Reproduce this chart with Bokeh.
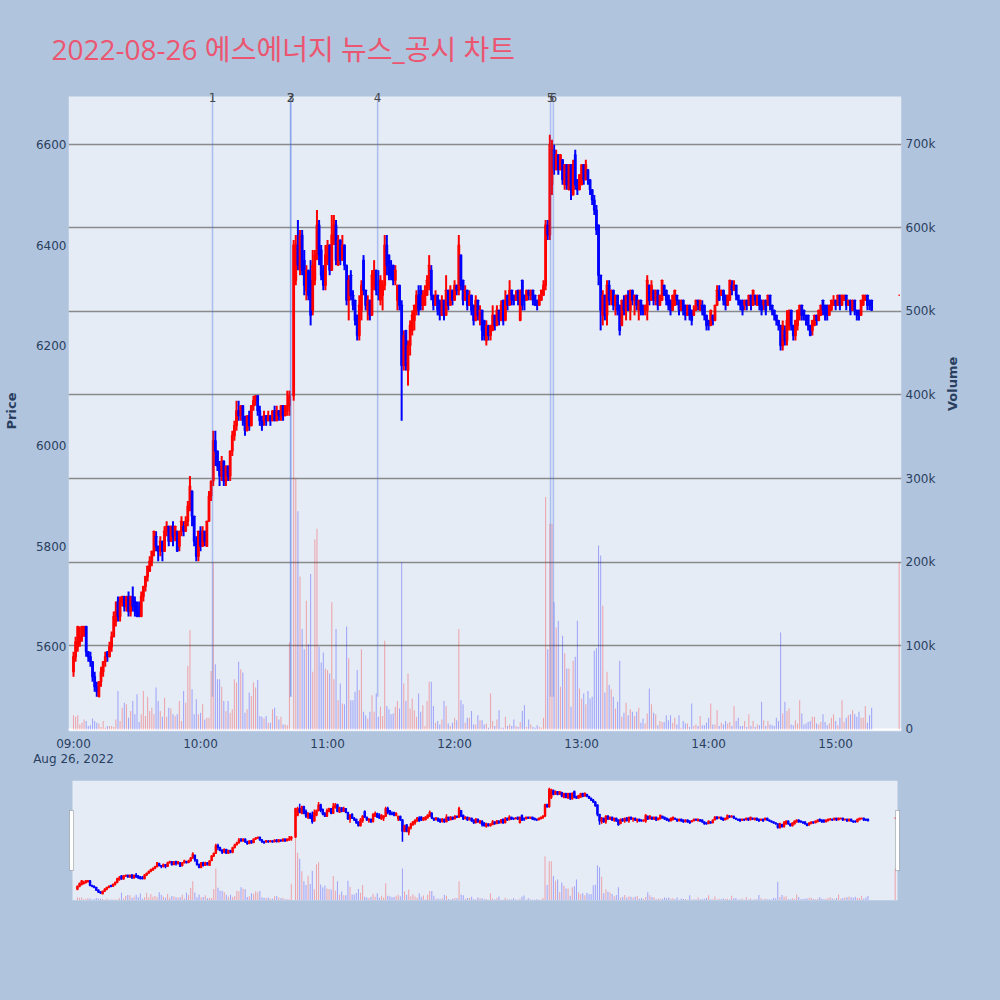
import math
from bokeh.plotting import figure
from bokeh.models import (ColumnDataSource, Range1d, LinearAxis, FixedTicker, LabelSet,
                          BoxAnnotation, Grid)
from bokeh.layouts import column
from bokeh.embed import file_html
from bokeh.resources import INLINE
from bokeh.core.properties import value

TITLE = "2022-08-26 에스에너지 뉴스_공시 차트"
DATE_LABEL = "Aug 26, 2022"
# minutes after 09:00 (10:43 missing: VI single-price auction; 15:30 = closing auction)
MINUTES = [m for m in range(0, 378) if m != 103] + [390]

OPEN = [
    5550,5580,5600,5610,5620,5630,5640,5590,5580,5570,
    5540,5520,5500,5530,5550,5570,5590,5580,5600,5620,
    5650,5690,5660,5690,5700,5680,5700,5670,5700,5690,
    5680,5670,5660,5700,5720,5740,5750,5770,5790,5820,
    5800,5790,5810,5790,5830,5840,5810,5840,5820,5830,
    5800,5830,5840,5830,5850,5880,5910,5860,5810,5780,
    5830,5800,5830,5800,5850,5900,5930,6010,5990,5960,
    5940,5970,5930,5960,5940,5990,6020,6040,6070,6060,
    6080,6050,6030,6060,6040,6080,6090,6100,6070,6050,
    6050,6060,6050,6060,6050,6070,6050,6070,6060,6080,
    6060,6070,6080,
    6100,6330,6400,6350,6420,6370,6310,6350,6330,6270,
    6330,6380,6440,6390,6350,6320,6370,6400,6350,6410,
    6440,6360,6410,6370,6400,6360,6290,6340,6300,6290,
    6260,6220,6270,6370,6310,6270,6290,6260,6320,6350,
    6330,6290,6300,6320,6400,6380,6350,6360,6330,6290,
    6320,6280,6160,6230,6150,6200,6230,6250,6270,6300,
    6310,6280,6280,6300,6320,6350,6300,6280,6300,6290,
    6260,6290,6260,6310,6280,6310,6290,6320,6310,6380,
    6330,6290,6310,6280,6300,6280,6250,6290,6250,6270,
    6250,6210,6240,6220,6230,6260,6240,6270,6250,6290,
    6250,6300,6280,6310,6300,6290,6310,6250,6330,6300,
    6290,6310,6300,6310,6300,6290,6280,6290,6300,6320,
    6440,6420,6520,6590,6550,6580,6550,6570,6520,6560,
    6510,6560,6500,6580,6530,6510,6520,6560,6530,6550,
    6530,6510,6490,6470,6440,6340,6260,6300,6260,6320,
    6290,6310,6280,6300,6280,6240,6290,6270,6300,6270,
    6310,6290,6300,6270,6290,6280,6270,6270,6320,6290,
    6310,6290,6310,6280,6290,6320,6310,6300,6290,6270,
    6280,6300,6290,6270,6290,6280,6260,6280,6270,6260,
    6270,6290,6270,6280,6280,6260,6250,6240,6260,6250,
    6280,6310,6300,6310,6300,6280,6290,6320,6310,6320,
    6300,6290,6290,6280,6290,6280,6300,6280,6300,6280,
    6300,6290,6280,6290,6280,6300,6280,6270,6260,6250,
    6240,6200,6230,6210,6240,6270,6240,6220,6240,6260,
    6280,6270,6260,6260,6240,6230,6240,6260,6250,6260,
    6290,6280,6280,6260,6270,6280,6290,6280,6300,6280,
    6290,6300,6280,6290,6270,6290,6270,6270,6260,6280,
    6290,6300,6290,6290,
    6300,
]
CLOSE = [
    5580,5610,5640,5620,5640,5640,5590,5580,5570,5540,
    5520,5510,5530,5550,5570,5580,5580,5600,5620,5660,
    5670,5660,5690,5700,5680,5700,5670,5700,5680,5670,
    5660,5660,5700,5720,5740,5760,5770,5790,5830,5800,
    5790,5810,5790,5830,5840,5810,5840,5820,5840,5790,
    5830,5850,5830,5850,5880,5920,5860,5810,5780,5830,
    5800,5830,5810,5850,5900,5930,6010,5990,5960,5940,
    5970,5930,5960,5940,5990,6020,6040,6070,6060,6080,
    6050,6030,6060,6040,6080,6090,6100,6070,6050,6040,
    6060,6050,6060,6050,6070,6050,6070,6060,6080,6060,
    6080,6080,6100,
    6400,6400,6360,6420,6350,6320,6350,6300,6260,6360,
    6380,6440,6380,6340,6320,6380,6400,6350,6420,6440,
    6370,6410,6370,6400,6360,6290,6330,6300,6280,6250,
    6220,6280,6320,6310,6280,6290,6260,6340,6350,6310,
    6300,6330,6320,6400,6360,6340,6340,6330,6350,6320,
    6280,6160,6220,6160,6200,6240,6260,6280,6300,6270,
    6280,6300,6310,6330,6360,6300,6280,6300,6270,6260,
    6290,6260,6310,6280,6310,6290,6320,6310,6400,6320,
    6290,6310,6280,6300,6270,6250,6290,6260,6270,6230,
    6220,6240,6220,6240,6260,6240,6270,6250,6280,6250,
    6290,6280,6310,6290,6290,6300,6290,6310,6280,6290,
    6310,6300,6310,6290,6280,6280,6300,6310,6320,6440,
    6420,6600,6600,6550,6580,6550,6580,6530,6560,6520,
    6560,6510,6560,6520,6510,6540,6560,6530,6560,6530,
    6510,6490,6470,6430,6340,6270,6300,6260,6320,6290,
    6310,6280,6300,6270,6230,6290,6270,6300,6270,6310,
    6290,6300,6280,6290,6270,6270,6280,6330,6290,6320,
    6290,6310,6280,6300,6330,6300,6290,6280,6270,6300,
    6310,6290,6270,6290,6270,6260,6280,6260,6250,6270,
    6290,6280,6290,6270,6260,6240,6240,6270,6250,6280,
    6310,6290,6310,6290,6280,6300,6330,6310,6320,6300,
    6290,6280,6270,6290,6280,6300,6280,6310,6290,6300,
    6280,6270,6290,6270,6300,6280,6270,6260,6250,6240,
    6200,6240,6210,6250,6270,6240,6220,6250,6270,6280,
    6260,6260,6250,6240,6220,6250,6260,6250,6270,6280,
    6270,6260,6260,6280,6290,6290,6280,6300,6280,6300,
    6300,6280,6290,6270,6290,6270,6260,6260,6290,6300,
    6300,6280,6280,6270,
    6300,
]
HIGH = [
    5590,5620,5640,5640,5640,5640,5640,5590,5590,5570,
    5550,5530,5530,5560,5570,5590,5590,5610,5630,5670,
    5690,5700,5700,5700,5700,5700,5710,5700,5720,5700,
    5690,5690,5710,5720,5740,5760,5780,5790,5830,5830,
    5800,5820,5810,5840,5850,5840,5840,5850,5840,5830,
    5830,5860,5850,5860,5890,5940,5910,5860,5820,5830,
    5840,5840,5830,5850,5910,5930,6030,6030,5990,5970,
    5980,5970,5960,5960,5990,6030,6050,6090,6090,6080,
    6080,6060,6060,6070,6080,6100,6100,6100,6080,6060,
    6070,6060,6070,6060,6070,6080,6080,6070,6080,6080,
    6080,6110,6110,
    6410,6420,6450,6430,6430,6390,6360,6350,6370,6390,
    6390,6470,6450,6400,6360,6400,6410,6400,6460,6460,
    6450,6420,6410,6420,6400,6360,6340,6350,6310,6290,
    6260,6300,6330,6380,6310,6300,6290,6350,6370,6350,
    6350,6340,6330,6420,6420,6380,6370,6360,6360,6320,
    6320,6290,6230,6230,6210,6250,6270,6280,6310,6320,
    6320,6310,6320,6340,6380,6360,6300,6310,6300,6290,
    6300,6290,6340,6310,6320,6310,6330,6320,6420,6380,
    6330,6320,6310,6310,6300,6280,6300,6290,6280,6270,
    6250,6250,6240,6240,6280,6260,6280,6270,6290,6290,
    6310,6300,6330,6310,6300,6310,6310,6310,6330,6300,
    6310,6310,6310,6310,6300,6290,6300,6310,6330,6450,
    6450,6620,6610,6600,6590,6580,6580,6570,6560,6560,
    6560,6560,6570,6590,6530,6540,6560,6560,6570,6550,
    6530,6510,6500,6480,6440,6340,6310,6300,6330,6330,
    6310,6310,6300,6300,6280,6290,6300,6300,6310,6310,
    6310,6300,6300,6290,6290,6280,6280,6340,6320,6330,
    6310,6310,6310,6300,6330,6320,6310,6300,6290,6300,
    6310,6300,6290,6290,6290,6280,6280,6280,6270,6280,
    6290,6290,6290,6290,6280,6260,6250,6270,6260,6280,
    6320,6320,6310,6310,6300,6300,6330,6330,6330,6320,
    6300,6290,6290,6290,6290,6300,6300,6310,6300,6300,
    6300,6290,6290,6290,6300,6300,6280,6270,6260,6250,
    6240,6250,6240,6270,6270,6270,6240,6250,6270,6280,
    6280,6270,6260,6260,6240,6250,6260,6260,6270,6280,
    6290,6280,6280,6280,6290,6300,6290,6300,6300,6300,
    6300,6300,6290,6290,6290,6290,6270,6270,6290,6300,
    6300,6300,6290,6290,
    6300,
]
LOW = [
    5540,5570,5590,5600,5610,5620,5580,5570,5560,5530,
    5510,5500,5500,5520,5540,5560,5570,5580,5590,5620,
    5640,5650,5650,5680,5670,5670,5660,5660,5670,5660,
    5660,5660,5660,5690,5710,5730,5750,5760,5780,5790,
    5770,5780,5770,5790,5820,5800,5810,5800,5810,5790,
    5790,5820,5820,5830,5840,5870,5840,5800,5770,5770,
    5790,5800,5800,5800,5850,5890,5920,5960,5950,5920,
    5930,5920,5920,5930,5930,5980,6010,6030,6050,6050,
    6040,6020,6030,6030,6040,6070,6080,6060,6040,6030,
    6040,6040,6050,6040,6050,6050,6050,6050,6050,6050,
    6060,6060,6060,
    6090,6320,6350,6340,6340,6300,6290,6290,6240,6260,
    6320,6370,6360,6330,6310,6310,6360,6340,6350,6400,
    6360,6360,6360,6370,6350,6280,6250,6290,6270,6240,
    6210,6210,6250,6300,6270,6250,6250,6260,6310,6300,
    6290,6280,6270,6310,6340,6330,6330,6320,6320,6270,
    6270,6050,6150,6150,6120,6180,6220,6230,6260,6260,
    6270,6270,6280,6300,6310,6290,6270,6280,6260,6250,
    6260,6250,6260,6270,6280,6280,6290,6300,6300,6310,
    6280,6290,6270,6280,6260,6240,6250,6250,6240,6210,
    6210,6200,6210,6210,6230,6230,6240,6240,6250,6240,
    6250,6270,6280,6280,6280,6290,6280,6250,6270,6270,
    6290,6290,6290,6280,6280,6270,6280,6290,6300,6310,
    6410,6410,6500,6540,6550,6540,6550,6520,6510,6510,
    6510,6490,6500,6510,6500,6510,6520,6520,6530,6520,
    6500,6480,6460,6420,6320,6230,6240,6250,6240,6280,
    6280,6270,6260,6260,6220,6240,6260,6250,6270,6250,
    6280,6260,6270,6250,6260,6260,6260,6250,6280,6290,
    6280,6280,6270,6280,6290,6300,6280,6270,6260,6270,
    6280,6280,6260,6270,6260,6250,6260,6250,6240,6260,
    6270,6270,6270,6260,6250,6230,6230,6240,6240,6250,
    6280,6290,6300,6280,6270,6280,6290,6300,6310,6290,
    6280,6270,6260,6270,6270,6280,6270,6280,6280,6280,
    6270,6260,6270,6260,6280,6270,6260,6250,6240,6230,
    6190,6190,6200,6200,6230,6230,6210,6210,6230,6250,
    6250,6250,6240,6230,6220,6220,6240,6240,6250,6260,
    6260,6250,6250,6260,6270,6280,6270,6280,6270,6280,
    6290,6270,6280,6260,6270,6260,6250,6250,6260,6280,
    6290,6270,6270,6270,
    6300,
]
# traded volume, thousands of shares
VOLUME_K = [
    17,15,17,6,8,12,10,4,5,13,
    10,8,7,3,10,2,4,4,4,3,
    12,46,10,26,32,30,14,22,34,18,
    42,9,18,46,16,39,22,26,18,50,
    34,22,15,38,15,26,25,18,16,18,
    34,10,46,32,76,119,48,18,36,18,
    20,30,12,14,14,70,200,78,60,60,
    51,34,22,34,20,24,60,56,81,72,
    68,20,24,44,40,56,50,59,16,15,
    13,16,8,8,24,26,16,12,15,6,
    6,5,104,
    450,300,261,183,120,96,154,102,186,69,
    227,240,99,80,92,73,71,67,152,60,
    120,35,55,31,30,123,85,35,35,45,
    71,47,96,21,17,13,21,41,21,43,
    15,27,16,106,28,24,18,19,27,34,
    25,200,55,34,67,25,37,23,15,43,
    21,29,4,34,57,57,28,8,10,6,
    12,34,28,7,4,8,14,11,120,35,
    30,8,14,14,22,6,6,17,11,11,
    6,7,2,43,10,4,12,23,2,2,
    15,4,6,4,12,4,3,9,22,29,
    3,12,6,3,2,5,3,2,14,278,
    96,246,246,152,122,130,51,112,91,73,
    73,27,82,87,130,49,37,43,30,46,
    37,39,94,97,220,208,148,44,69,53,
    48,39,25,33,82,15,20,32,17,24,
    21,16,21,26,8,13,7,19,49,30,
    20,18,5,10,9,9,17,11,17,8,
    14,6,17,2,10,7,7,3,31,4,
    6,4,16,5,5,8,14,31,6,6,
    23,4,8,6,10,7,9,4,28,10,
    14,4,4,10,3,18,4,10,3,6,
    5,33,11,4,10,6,5,4,14,10,
    116,19,33,22,25,6,5,11,7,35,
    19,6,7,9,10,15,15,7,6,9,
    18,9,5,7,14,18,10,5,14,35,
    9,14,17,18,23,18,15,21,14,14,
    28,8,17,26,
    200,
]

NEWS_TIME = ["10:05:40", "10:42:30", "10:42:40", "11:23:40", "12:45:20", "12:46:40"]
NEWS_LABEL = ["1", "2", "3", "4", "5", "6"]
HOUR_TICKS = ["09:00", "10:00", "11:00", "12:00", "13:00", "14:00", "15:00"]
PRICE_TICKS = [5600, 5800, 6000, 6200, 6400, 6600]
VOLUME_TICKS_K = [0, 100, 200, 300, 400, 500, 600, 700]

X_RANGE = (-2.36, 391.1)
PRICE_RANGE = (5431, 6696)
VOL_RANGE = (-2.5, 757)

n = len(MINUTES)
for arr in (OPEN, CLOSE, HIGH, LOW, VOLUME_K):
    assert len(arr) == n, (len(arr), n)

def to_min(t):
    parts = [int(s) for s in t.split(":")]
    while len(parts) < 3:
        parts.append(0)
    return (parts[0] - 9) * 60 + parts[1] + parts[2] / 60.0

INC_C, DEC_C = "#FF0000", "#0000FF"
col = [INC_C if c >= o else DEC_C for o, c in zip(OPEN, CLOSE)]
src = ColumnDataSource(dict(
    x=MINUTES, o=OPEN, c=CLOSE, h=HIGH, l=LOW, v=VOLUME_K, col=col,
    top=[max(o, c) for o, c in zip(OPEN, CLOSE)],
    bot=[min(o, c) for o, c in zip(OPEN, CLOSE)],
))

PAGE_BG = "#B0C4DE"
PLOT_BG = "#E5ECF6"
AX_C = "#2a3f5f"
TICK_FONT = "DejaVu Sans"

def draw(fig, wick_w, body_lw, zero_line=True):
    if zero_line:
        fig.hspan(y=[0], y_range_name="vol", line_color="white", line_width=2)
    fig.vbar(x="x", top="v", bottom=0, width=0.5, fill_color="col", fill_alpha=0.3,
             line_color=None, y_range_name="vol", source=src)
    fig.segment(x0="x", y0="l", x1="x", y1="h", line_color="col", line_width=wick_w, source=src)
    fig.vbar(x="x", top="top", bottom="bot", width=0.6, fill_color="col",
             line_color="col", line_width=body_lw, source=src)

FRAME_W = 833
FRAME_H = 635
TOP_PAD = 6   # strip above the plot area, so the news numbers can sit across its top edge
price_pad = TOP_PAD * (PRICE_RANGE[1] - PRICE_RANGE[0]) / FRAME_H
vol_pad = TOP_PAD * (VOL_RANGE[1] - VOL_RANGE[0]) / FRAME_H

xr = Range1d(*X_RANGE)
yr = Range1d(PRICE_RANGE[0], PRICE_RANGE[1] + price_pad)

# frame background = page colour; the plot area is painted as an underlay box
p = figure(x_range=xr, y_range=yr, frame_width=FRAME_W, frame_height=FRAME_H + TOP_PAD,
           min_border_left=68, min_border_right=91, min_border_top=96 - TOP_PAD,
           min_border_bottom=47,
           output_backend="svg", toolbar_location=None,
           background_fill_color=PAGE_BG, border_fill_color=PAGE_BG,
           outline_line_color=None, title=TITLE)
p.extra_y_ranges = {"vol": Range1d(VOL_RANGE[0], VOL_RANGE[1] + vol_pad)}
p.add_layout(BoxAnnotation(top=PRICE_RANGE[1], fill_color=PLOT_BG, fill_alpha=1.0,
                           line_color=None, level="underlay"))

p.title.text_font = "Open Sans, Noto Sans CJK KR"
p.title.text_font_size = "28px"
p.title.text_font_style = "normal"
p.title.text_color = "#EC5570"
p.title.align = "left"
p.title.offset = -17
p.title.standoff = 52 - TOP_PAD

# grids
p.xgrid.grid_line_color = None
p.ygrid.ticker = FixedTicker(ticks=PRICE_TICKS)
p.ygrid.grid_line_color = "white"
p.ygrid.grid_line_width = 1
vgrid = Grid(dimension=1, ticker=FixedTicker(ticks=VOLUME_TICKS_K[1:]), y_range_name="vol",
             grid_line_color="#8a8a8a", grid_line_width=1.5)
p.add_layout(vgrid)

draw(p, 2, 1.5)

# news markers
news_x = [to_min(t) for t in NEWS_TIME]
p.segment(x0=news_x, y0=[min(LOW)] * len(news_x), x1=news_x,
          y1=[PRICE_RANGE[1]] * len(news_x),
          line_color="royalblue", line_alpha=0.35, line_width=1.5)
nsrc = ColumnDataSource(dict(x=news_x, y=[PRICE_RANGE[1]] * len(news_x), t=NEWS_LABEL))
p.add_layout(LabelSet(x="x", y="y", text="t", source=nsrc, text_align="center",
                      text_baseline="middle", y_offset=-1, text_font_size="12px",
                      text_color="#444444", text_font=value(TICK_FONT)))

# axes
xa = p.xaxis[0]
tick_min = [to_min(t) for t in HOUR_TICKS]
xa.ticker = FixedTicker(ticks=tick_min)
xa.major_label_overrides = {t: lab for t, lab in zip(tick_min, HOUR_TICKS)}

xa2 = LinearAxis(ticker=FixedTicker(ticks=[tick_min[0]]),
                 major_label_overrides={tick_min[0]: DATE_LABEL})
p.add_layout(xa2, "below")

ya = p.yaxis[0]
ya.ticker = FixedTicker(ticks=PRICE_TICKS)
ya.axis_label = "Price"

va = LinearAxis(y_range_name="vol", ticker=FixedTicker(ticks=VOLUME_TICKS_K),
                major_label_overrides={k: ("0" if k == 0 else f"{k}k") for k in VOLUME_TICKS_K},
                axis_label="Volume")
p.add_layout(va, "right")
va.axis_label_orientation = math.pi / 2

for ax in (xa, xa2, ya, va):
    ax.axis_line_color = None
    ax.major_tick_line_color = None
    ax.minor_tick_line_color = None
    ax.major_tick_out = 0
    ax.major_tick_in = 0
    ax.major_label_text_font = TICK_FONT
    ax.major_label_text_font_size = "12px"
    ax.major_label_text_color = AX_C
    ax.axis_label_text_font = TICK_FONT
    ax.axis_label_text_font_size = "13px"
    ax.axis_label_text_font_style = "bold"
    ax.axis_label_text_color = AX_C
xa.major_label_standoff = 5
xa2.major_label_standoff = -2
ya.major_label_standoff = 2
va.major_label_standoff = 4
ya.axis_label_standoff = 14
va.axis_label_standoff = 14

# range slider replica: slider area is 4px narrower on each side than the main frame
SL_PAD = 4
sl_ppm = (FRAME_W - 2 * SL_PAD) / (X_RANGE[1] - X_RANGE[0])
pad = SL_PAD / sl_ppm
xr2 = Range1d(X_RANGE[0] - pad, X_RANGE[1] + pad)
p2 = figure(x_range=xr2, y_range=Range1d(*PRICE_RANGE), frame_width=FRAME_W, frame_height=120,
            min_border_left=68, min_border_right=91, min_border_top=2, min_border_bottom=40,
            output_backend="svg", toolbar_location=None,
            background_fill_color=PAGE_BG, border_fill_color=PAGE_BG, outline_line_color=None)
p2.extra_y_ranges = {"vol": Range1d(*VOL_RANGE)}
p2.xaxis.visible = False
p2.yaxis.visible = False
p2.xgrid.grid_line_color = None
p2.ygrid.grid_line_color = None
p2.add_layout(BoxAnnotation(left=X_RANGE[0], right=X_RANGE[1], fill_color=PLOT_BG,
                            fill_alpha=1.0, line_color=None, level="underlay"))
draw(p2, 1.5, 1.2, zero_line=False)
ppu = 120 / (PRICE_RANGE[1] - PRICE_RANGE[0])
h_top = PRICE_RANGE[1] - 30 / ppu
h_bot = PRICE_RANGE[1] - 90 / ppu
for edge, l_off, r_off in ((X_RANGE[0], -3, 1), (X_RANGE[1], -2, 2)):
    p2.add_layout(BoxAnnotation(left=edge + l_off / sl_ppm, right=edge + r_off / sl_ppm,
                                top=h_top, bottom=h_bot, fill_color="white", fill_alpha=1.0,
                                line_color="#444444", line_width=1))

layout = column(p, p2)
html = file_html(layout, INLINE, title="chart")
html = html.replace("</head>", "<style>html,body{background:%s;}</style></head>" % PAGE_BG, 1)
open("out.html", "w").write(html)
